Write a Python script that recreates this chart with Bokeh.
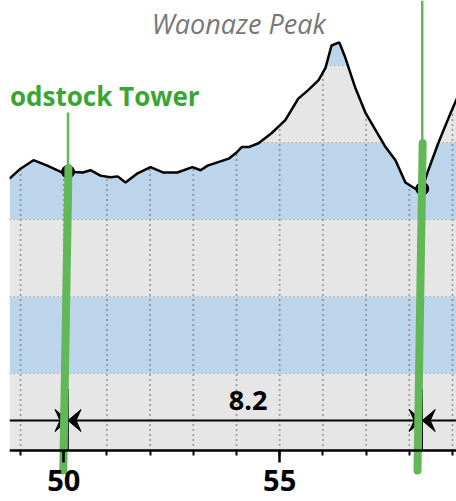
import numpy as np
from bokeh.plotting import figure
from bokeh.models import Range1d, SingleIntervalTicker
from bokeh.core.properties import value
from bokeh.embed import file_html
from bokeh.resources import INLINE

# ---------------- data ----------------
# distance (km) and elevation (m) of the profile
dist_km = [48.745, 49.00, 49.30, 49.62, 49.97, 50.10, 50.44, 50.62, 50.85, 51.08,
           51.25, 51.43, 51.71, 52.01, 52.31, 52.63, 52.98, 53.17, 53.33, 53.82,
           53.98, 54.12, 54.28, 54.51, 54.81, 55.13, 55.43, 55.66, 55.90, 56.06,
           56.20, 56.38, 56.52, 56.75, 56.99, 57.22, 57.45, 57.68, 57.91, 58.14,
           58.30, 58.44, 58.67, 58.91, 59.20]
elev_m = [353, 366, 377, 370, 361, 362, 361, 364, 357, 355,
          356, 348, 360, 368, 361, 361, 368, 364, 370, 379,
          386, 394, 394, 399, 412, 429, 457, 468, 481, 497,
          526, 530, 510, 471, 438, 416, 394, 377, 348, 340,
          340, 364, 399, 432, 470]

band_edges = [0, 100, 200, 300, 400, 500, 600]
band_colors = ["#e6e6e6", "#bcd5ea", "#e6e6e6", "#bcd5ea", "#e6e6e6", "#bcd5ea"]

stations_km = [50.1, 58.3]
station_label = "odstock Tower"
peak_name = "Waonaze Peak"
segment_label = "8.2"

GREEN = "#62b757"
GREEN_TEXT = "#3ba534"

FW, FH, LEFT = 456, 501, 9
x0, x1 = 48.745, 59.093
y0, y1 = -66.2, 584.4
PX = (x1 - x0) / (FW - LEFT)   # km per pixel
PY = (y1 - y0) / FH            # m per pixel

p = figure(width=FW, height=FH, x_range=Range1d(x0, x1), y_range=Range1d(y0, y1),
           output_backend="svg", toolbar_location=None, min_border=0,
           min_border_left=LEFT, y_axis_location=None, background_fill_color="white",
           border_fill_color="white", outline_line_color=None)
p.grid.visible = False

xs = np.array(dist_km)
ys = np.array(elev_m)
xd = np.linspace(xs[0], xs[-1], 3000)
yd = np.interp(xd, xs, ys)

# elevation bands under the profile
for lo, hi, c in zip(band_edges[:-1], band_edges[1:], band_colors):
    p.varea(x=xd, y1=lo, y2=np.clip(yd, lo, hi), fill_color=c)

# horizontal dotted lines at band edges (under the profile only)
for e in band_edges[1:-1]:
    yy = np.where(yd > e, e, np.nan)
    p.line(xd, yy, line_color="#8a8a8a", line_width=1.2, line_dash="1 3")

# vertical dotted grid at each km under the profile
ks = np.arange(np.ceil(x0), np.floor(x1) + 1)
p.segment(x0=ks, y0=0, x1=ks, y1=np.interp(ks, xs, ys), line_color="#555555",
          line_width=1.7, line_dash="1 4")

# profile
p.line(xs, ys, line_color="black", line_width=2.5)

st = np.array(stations_km)
st_el = np.interp(st, xs, ys)
p.scatter(st, st_el, size=13, fill_color="black", line_color="black")

# dimension line
dim_y = 39
p.segment(x0=[x0], y0=[dim_y], x1=[x1], y1=[dim_y], line_color="black", line_width=2)
p.segment(x0=st, y0=0, x1=st, y1=80, line_color="black", line_width=1.5)
# arrow heads (vee) pointing at each station from both sides
L, W, N = 13 * PX, 11 * PY, 8 * PX
hx, hy = [], []
for s in st:
    for d in (-1, 1):
        hx.append([s, s + d * L, s + d * N, s + d * L])
        hy.append([dim_y, dim_y + W, dim_y, dim_y - W])
p.patches(hx, hy, fill_color="black", line_color="black", line_width=1)

p.text(x=[(st[0] + st[1]) / 2 + 3 * PX], y=[52 + 10 * PY], text=[segment_label],
       text_align="center", text_baseline="alphabetic", text_font=value("Open Sans"),
       text_font_style="bold", text_font_size="27px", text_color="black")

# station marker lines (green)
p.segment(x0=[st[0]], y0=[439], x1=[st[0]], y1=[st_el[0]], line_color=GREEN, line_width=2.5)
p.segment(x0=[st[1]], y0=[y1], x1=[st[1]], y1=[399], line_color=GREEN, line_width=2.5)
p.segment(x0=st + 0.01, y0=[st_el[0] + 5, 399], x1=st - 0.11, y1=-26,
          line_color=GREEN, line_width=8, line_cap="round")

# labels
p.text(x=[x0 + 0.5 * PX], y=[447 + 10 * PY], text=[station_label], text_align="left",
       text_baseline="alphabetic", text_font=value("Open Sans"), text_font_style="bold",
       text_font_size="26px", text_color=GREEN_TEXT)
p.text(x=[54.05], y=[539 + 12 * PY], text=[peak_name], text_align="center",
       text_baseline="alphabetic", text_font=value("Open Sans"), text_font_style="italic",
       text_font_size="27px", text_color="#777777")

# x axis
ax = p.xaxis[0]
ax.fixed_location = 0
ax.ticker = SingleIntervalTicker(interval=5, num_minor_ticks=5)
ax.axis_line_width = 2.5
ax.axis_line_color = "black"
ax.major_tick_line_width = 2.5
ax.minor_tick_line_width = 2
ax.major_tick_in = 0
ax.major_tick_out = 12
ax.minor_tick_in = 0
ax.minor_tick_out = 5
ax.major_label_text_font = "Open Sans"
ax.major_label_text_font_style = "bold"
ax.major_label_text_font_size = "29px"
ax.major_label_text_color = "black"
ax.major_label_standoff = 7

open("out.html", "w").write(file_html(p, INLINE))
